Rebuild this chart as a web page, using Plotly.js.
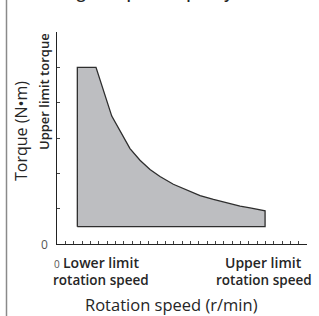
<!DOCTYPE html>
<html>
<head>
<meta charset="utf-8">
<script src="https://cdn.plot.ly/plotly-3.0.1.min.js"></script>
<style>html,body{margin:0;padding:0;background:#fff;}#chart{width:319px;height:316px;}</style>
</head>
<body>
<div id="chart"></div>
<script>
// Rotation speed (axis units) and torque (axis units) outlining the usable region
const speed  = [2.44, 2.44, 4.68, 6.57, 8.76, 9.96, 11.16, 12.36, 13.96, 15.57, 17.17, 18.77, 20.37, 21.97, 23.17, 24.97, 24.97, 2.44];
const torque = [0.49, 5.00, 5.00, 3.62, 2.70, 2.37, 2.11, 1.91, 1.69, 1.52, 1.37, 1.26, 1.16, 1.07, 1.02, 0.94, 0.49, 0.49];
const xTicks = [0,1,2,3,4,5,6,7,8,9,10,11,12,13,14,15,16,17,18,19,20,21,22,23,24,25,26,27,28,29,30];
const yTicks = [0,1,2,3,4,5];

const FONT = "Open Sans, Noto Sans, sans-serif";
const TXT = "#262626";

const L = 57, T = 32, W = 250, H = 212;
const px = v => (v - L) / W;
const py = v => (T + H - v) / H;

const trace = {
  x: speed, y: torque, type: 'scatter', mode: 'lines',
  fill: 'toself', fillcolor: '#bdbec1',
  line: {color: '#2e2e2e', width: 1.3},
  hoverinfo: 'skip', showlegend: false
};

const layout = {
  width: 319, height: 316,
  margin: {l: L, r: 319 - L - W, t: T, b: 316 - T - H, pad: 0},
  paper_bgcolor: '#fff', plot_bgcolor: '#fff',
  showlegend: false,
  xaxis: {
    range: [0, 30], showgrid: false, zeroline: false,
    showline: true, linecolor: '#222', linewidth: 1,
    ticks: 'inside', ticklen: 3, tickcolor: '#444', tickwidth: 1,
    tickvals: xTicks, showticklabels: false, fixedrange: true
  },
  yaxis: {
    range: [0, 6], showgrid: false, zeroline: false,
    showline: true, linecolor: '#222', linewidth: 1,
    ticks: 'inside', ticklen: 3, tickcolor: '#444', tickwidth: 1,
    tickvals: yTicks, showticklabels: false, fixedrange: true
  },
  shapes: [
    {type: 'line', xref: 'paper', yref: 'paper', x0: px(6.5), x1: px(6.5), y0: py(316), y1: py(0),
     line: {color: '#8a8a8a', width: 1.5}}
  ],
  annotations: [
    {text: 'Range of speed capacity', xref: 'paper', yref: 'paper', x: px(140), y: py(5), xanchor: 'center', yanchor: 'bottom',
     showarrow: false, font: {family: FONT, size: 16, color: TXT, weight: 600}},
    {text: '0', xref: 'paper', yref: 'paper', x: px(44), y: py(244), xanchor: 'center', yanchor: 'middle',
     showarrow: false, font: {family: FONT, size: 12, color: '#555'}},
    {text: '0', xref: 'paper', yref: 'paper', x: px(57), y: py(264), xanchor: 'center', yanchor: 'middle',
     showarrow: false, font: {family: FONT, size: 10, color: '#555'}},
    {text: 'Lower limit', xref: 'paper', yref: 'paper', x: px(101), y: py(262), xanchor: 'center', yanchor: 'middle',
     showarrow: false, font: {family: FONT, size: 14, color: TXT, weight: 600}},
    {text: 'rotation speed', xref: 'paper', yref: 'paper', x: px(101), y: py(279.5), xanchor: 'center', yanchor: 'middle',
     showarrow: false, font: {family: FONT, size: 13.5, color: TXT, weight: 600}},
    {text: 'Upper limit', xref: 'paper', yref: 'paper', x: px(263), y: py(262), xanchor: 'center', yanchor: 'middle',
     showarrow: false, font: {family: FONT, size: 14, color: TXT, weight: 600}},
    {text: 'rotation speed', xref: 'paper', yref: 'paper', x: px(264), y: py(279.5), xanchor: 'center', yanchor: 'middle',
     showarrow: false, font: {family: FONT, size: 13.5, color: TXT, weight: 600}},
    {text: 'Rotation speed (r/min)', xref: 'paper', yref: 'paper', x: px(171.5), y: py(304), xanchor: 'center', yanchor: 'middle',
     showarrow: false, font: {family: FONT, size: 16.5, color: TXT}},
    {text: 'Torque (N\u2022m)', xref: 'paper', yref: 'paper', x: px(21), y: py(131), xanchor: 'center', yanchor: 'middle',
     textangle: -90, showarrow: false, font: {family: FONT, size: 16, color: TXT}},
    {text: 'Upper limit torque', xref: 'paper', yref: 'paper', x: px(44), y: py(92), xanchor: 'center', yanchor: 'middle',
     textangle: -90, showarrow: false, font: {family: FONT, size: 13, color: TXT, weight: 600}}
  ]
};

Plotly.newPlot('chart', [trace], layout, {displayModeBar: false, staticPlot: true});
</script>
</body>
</html>
